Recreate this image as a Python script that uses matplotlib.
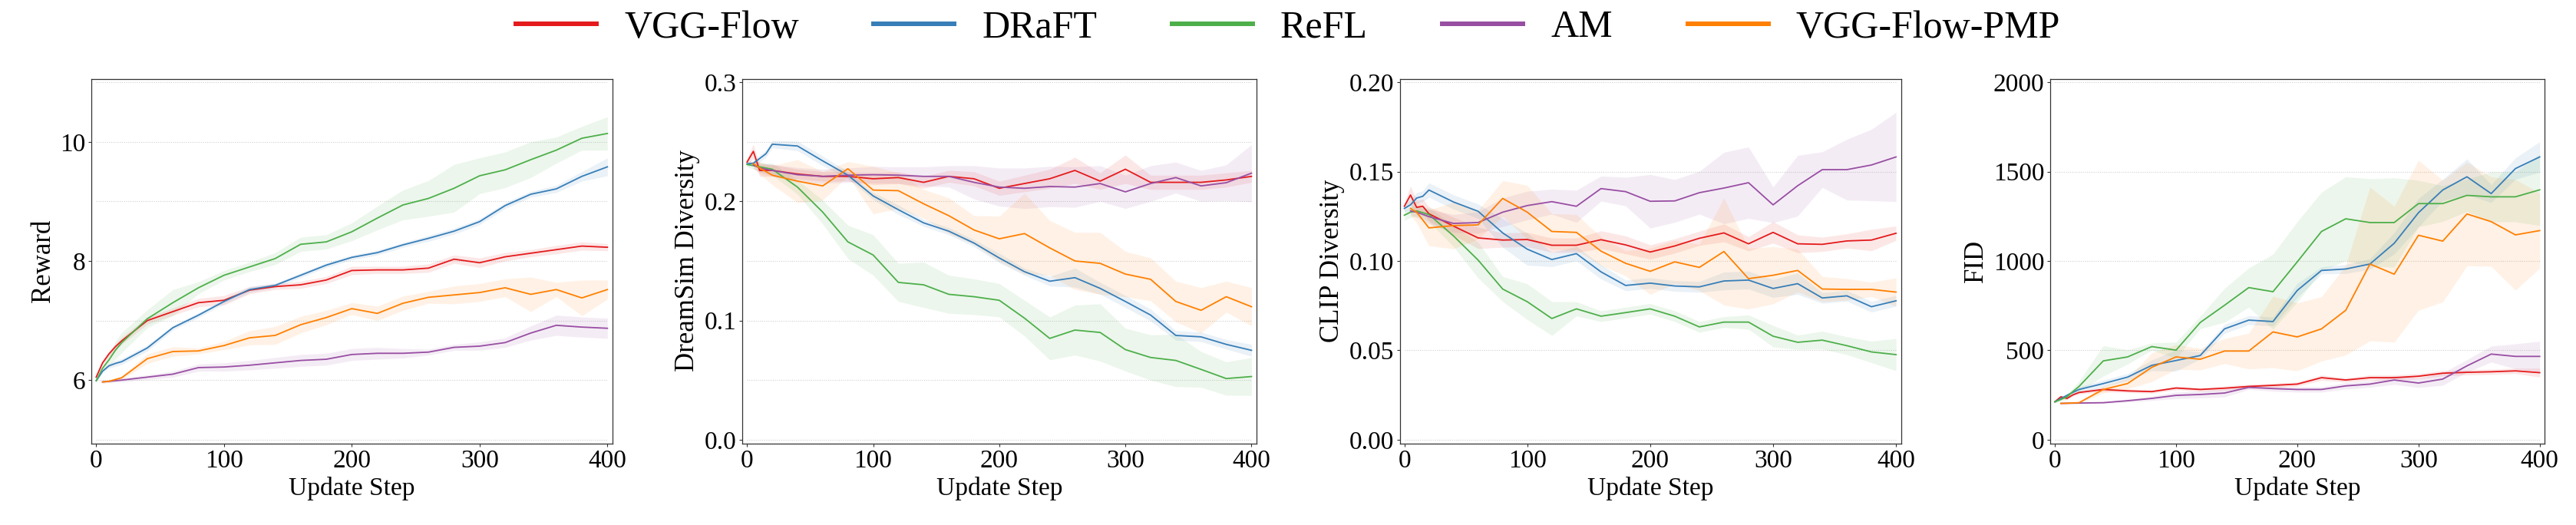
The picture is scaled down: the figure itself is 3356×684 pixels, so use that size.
import matplotlib
matplotlib.use('Agg')
import matplotlib.pyplot as plt
from matplotlib.ticker import FixedLocator
from matplotlib.lines import Line2D

plt.rcParams['font.family'] = ['Liberation Serif', 'DejaVu Serif']

# ---------------- data ----------------
methods = ['VGG-Flow', 'DRaFT', 'ReFL', 'AM', 'VGG-Flow-PMP']
colors = ['#e41a1c', '#377eb8', '#4daf4a', '#984ea3', '#ff7f00']

steps_full = [0, 5, 10, 15, 20, 40, 60, 80, 100, 120, 140, 160, 180, 200,
              220, 240, 260, 280, 300, 320, 340, 360, 380, 400]
steps_late = [5, 10, 20, 40, 60, 80, 100, 120, 140, 160, 180, 200,
              220, 240, 260, 280, 300, 320, 340, 360, 380, 400]

# Reward
reward_vgg = [6.05, 6.29, 6.44, 6.56, 6.66, 7.00, 7.15, 7.30, 7.34, 7.51, 7.57, 7.60,
              7.68, 7.84, 7.85, 7.85, 7.88, 8.03, 7.97, 8.07, 8.13, 8.19, 8.25, 8.23]
reward_vgg_sd = [0.02, 0.03, 0.04, 0.05, 0.06, 0.06, 0.06, 0.07, 0.08, 0.06, 0.05, 0.06,
                 0.06, 0.07, 0.06, 0.06, 0.07, 0.07, 0.08, 0.07, 0.06, 0.07, 0.07, 0.06]
reward_draft = [5.99, 6.15, 6.24, 6.28, 6.31, 6.54, 6.88, 7.09, 7.32, 7.52, 7.59, 7.76,
                7.93, 8.06, 8.14, 8.27, 8.38, 8.50, 8.66, 8.93, 9.12, 9.21, 9.42, 9.58]
reward_draft_sd = [0.02, 0.03, 0.04, 0.05, 0.05, 0.05, 0.04, 0.04, 0.04, 0.05, 0.04, 0.04,
                   0.04, 0.04, 0.04, 0.04, 0.05, 0.05, 0.05, 0.05, 0.05, 0.06, 0.08, 0.15]
reward_refl = [5.99, 6.20, 6.34, 6.50, 6.63, 7.03, 7.30, 7.55, 7.76, 7.90, 8.04, 8.28,
               8.32, 8.49, 8.72, 8.94, 9.05, 9.22, 9.43, 9.53, 9.70, 9.86, 10.06, 10.14]
reward_refl_sd = [0.02, 0.05, 0.10, 0.15, 0.17, 0.15, 0.22, 0.10, 0.08, 0.08, 0.10, 0.12,
                  0.12, 0.15, 0.20, 0.25, 0.30, 0.40, 0.30, 0.30, 0.30, 0.22, 0.20, 0.28]
reward_am = [5.97, 5.98, 6.00, 6.05, 6.10, 6.21, 6.22, 6.25, 6.29, 6.33, 6.35, 6.43,
             6.45, 6.45, 6.47, 6.55, 6.57, 6.63, 6.79, 6.92, 6.89, 6.87]
reward_am_sd = [0.02, 0.02, 0.03, 0.04, 0.05, 0.06, 0.07, 0.08, 0.09, 0.10, 0.10, 0.10,
                0.10, 0.08, 0.05, 0.05, 0.07, 0.08, 0.12, 0.17, 0.17, 0.17]
reward_pmp = [5.97, 5.98, 6.04, 6.36, 6.48, 6.49, 6.58, 6.71, 6.75, 6.93, 7.05, 7.20,
              7.12, 7.29, 7.39, 7.43, 7.47, 7.55, 7.44, 7.52, 7.38, 7.52]
reward_pmp_sd = [0.02, 0.02, 0.03, 0.08, 0.08, 0.05, 0.07, 0.12, 0.15, 0.14, 0.12, 0.10,
                 0.12, 0.12, 0.10, 0.15, 0.15, 0.15, 0.29, 0.12, 0.30, 0.16]

# DreamSim Diversity
dream_vgg = [0.233, 0.242, 0.226, 0.226, 0.226, 0.223, 0.221, 0.221, 0.219, 0.220, 0.216, 0.221,
             0.219, 0.211, 0.215, 0.219, 0.226, 0.217, 0.227, 0.216, 0.216, 0.216, 0.218, 0.221]
dream_vgg_sd = [0.003, 0.006, 0.005, 0.005, 0.005, 0.004, 0.004, 0.004, 0.005, 0.005, 0.005, 0.005,
                0.006, 0.006, 0.007, 0.008, 0.011, 0.007, 0.012, 0.006, 0.006, 0.006, 0.006, 0.005]
dream_draft = [0.2316, 0.232, 0.236, 0.240, 0.248, 0.2465, 0.234, 0.222, 0.2046, 0.193, 0.182, 0.175,
               0.165, 0.1525, 0.141, 0.133, 0.136, 0.127, 0.116, 0.1046, 0.0875, 0.0863, 0.080, 0.075]
dream_draft_sd = [0.002, 0.002, 0.003, 0.003, 0.003, 0.004, 0.004, 0.003, 0.003, 0.004, 0.003, 0.003,
                  0.003, 0.004, 0.003, 0.004, 0.008, 0.005, 0.005, 0.005, 0.004, 0.004, 0.004, 0.005]
dream_refl = [0.231, 0.230, 0.229, 0.228, 0.227, 0.212, 0.191, 0.166, 0.155, 0.132, 0.130, 0.122,
              0.120, 0.117, 0.102, 0.085, 0.092, 0.090, 0.0756, 0.069, 0.0665, 0.059, 0.0513, 0.053]
dream_refl_sd = [0.002, 0.003, 0.004, 0.004, 0.005, 0.006, 0.010, 0.014, 0.017, 0.016, 0.019, 0.016,
                 0.015, 0.014, 0.015, 0.018, 0.021, 0.024, 0.018, 0.019, 0.022, 0.015, 0.014, 0.016]
dream_am = [0.2306, 0.228, 0.226, 0.2224, 0.221, 0.222, 0.2224, 0.222, 0.221, 0.221, 0.216, 0.212,
            0.211, 0.2125, 0.212, 0.215, 0.208, 0.215, 0.220, 0.213, 0.2157, 0.2237]
dream_am_sd = [0.003, 0.004, 0.005, 0.006, 0.006, 0.006, 0.007, 0.007, 0.008, 0.009, 0.014, 0.016,
               0.017, 0.017, 0.017, 0.015, 0.014, 0.015, 0.013, 0.013, 0.015, 0.024]
dream_pmp = [0.2316, 0.228, 0.222, 0.217, 0.213, 0.2274, 0.2095, 0.209, 0.198, 0.188, 0.176, 0.1686,
             0.173, 0.161, 0.150, 0.148, 0.139, 0.1346, 0.116, 0.1086, 0.120, 0.1116]
dream_pmp_sd = [0.003, 0.005, 0.008, 0.018, 0.012, 0.006, 0.020, 0.015, 0.012, 0.015, 0.012, 0.019,
                0.034, 0.023, 0.024, 0.026, 0.019, 0.018, 0.017, 0.019, 0.013, 0.016]

# CLIP Diversity
clip_vgg = [0.1306, 0.1369, 0.1300, 0.1306, 0.1264, 0.1195, 0.1129, 0.1117, 0.1120, 0.1088, 0.1088, 0.1119,
            0.1090, 0.1050, 0.1084, 0.1127, 0.1157, 0.1096, 0.1160, 0.1096, 0.1093, 0.1112, 0.1117, 0.1155]
clip_vgg_sd = [0.002, 0.005, 0.004, 0.004, 0.004, 0.005, 0.006, 0.004, 0.004, 0.004, 0.004, 0.005,
               0.005, 0.004, 0.004, 0.004, 0.005, 0.004, 0.006, 0.005, 0.004, 0.004, 0.006, 0.004]
clip_draft = [0.1294, 0.1314, 0.1352, 0.1362, 0.1397, 0.1330, 0.1278, 0.1157, 0.1066, 0.1008, 0.1041, 0.0939,
              0.0863, 0.0876, 0.0860, 0.0855, 0.0888, 0.0893, 0.0846, 0.0873, 0.0793, 0.0805, 0.0744, 0.0777]
clip_draft_sd = [0.002, 0.003, 0.003, 0.003, 0.004, 0.004, 0.004, 0.008, 0.009, 0.004, 0.004, 0.004,
                 0.003, 0.003, 0.003, 0.003, 0.005, 0.005, 0.005, 0.006, 0.003, 0.003, 0.003, 0.003]
clip_refl = [0.1256, 0.1273, 0.1280, 0.1270, 0.1260, 0.1140, 0.1005, 0.0843, 0.0772, 0.0678, 0.0732, 0.0691,
             0.0711, 0.0732, 0.0691, 0.0631, 0.0658, 0.0658, 0.0579, 0.0545, 0.0557, 0.0526, 0.0491, 0.0476]
clip_refl_sd = [0.003, 0.003, 0.003, 0.003, 0.004, 0.006, 0.010, 0.007, 0.010, 0.0095, 0.004, 0.003,
                0.003, 0.003, 0.003, 0.003, 0.003, 0.004, 0.006, 0.004, 0.005, 0.005, 0.006, 0.009]
clip_am = [0.1280, 0.1273, 0.1248, 0.1210, 0.1215, 0.1273, 0.1310, 0.1332, 0.1306, 0.1405, 0.1388, 0.1334,
           0.1336, 0.1382, 0.1408, 0.1438, 0.1314, 0.1421, 0.1511, 0.1511, 0.1537, 0.1582]
clip_am_sd = [0.002, 0.003, 0.004, 0.005, 0.006, 0.008, 0.008, 0.007, 0.009, 0.007, 0.008, 0.015,
              0.012, 0.012, 0.020, 0.020, 0.010, 0.017, 0.010, 0.017, 0.020, 0.025]
clip_pmp = [0.1294, 0.1273, 0.1185, 0.1198, 0.1202, 0.1350, 0.1273, 0.1165, 0.1160, 0.1055, 0.0987, 0.0942,
            0.0995, 0.0964, 0.1053, 0.0901, 0.0920, 0.0947, 0.0843, 0.0841, 0.0841, 0.0826]
clip_pmp_sd = [0.004, 0.006, 0.010, 0.013, 0.008, 0.010, 0.015, 0.010, 0.010, 0.008, 0.007, 0.013,
               0.012, 0.013, 0.030, 0.017, 0.016, 0.012, 0.007, 0.006, 0.004, 0.008]

# FID
fid_vgg = [212, 240, 231, 251, 264, 281, 273, 269, 289, 281, 288, 298,
           304, 311, 347, 334, 347, 347, 355, 372, 377, 380, 385, 375]
fid_vgg_sd = [5, 8, 8, 8, 10, 12, 10, 10, 10, 10, 12, 12,
              12, 12, 15, 12, 15, 15, 15, 15, 15, 15, 15, 25]
fid_draft = [212, 230, 248, 265, 281, 314, 350, 416, 443, 471, 620, 669,
             661, 835, 947, 955, 983, 1099, 1270, 1397, 1471, 1377, 1517, 1582]
fid_draft_sd = [5, 8, 10, 12, 15, 20, 20, 30, 60, 20, 25, 25,
                25, 40, 20, 25, 30, 60, 80, 60, 100, 50, 60, 85]
fid_refl = [212, 225, 240, 270, 298, 441, 463, 521, 501, 656, 752, 851,
            828, 995, 1165, 1236, 1215, 1215, 1321, 1321, 1367, 1359, 1359, 1398]
fid_refl_sd = [5, 10, 15, 20, 30, 85, 40, 20, 45, 35, 95, 110,
               210, 225, 220, 235, 245, 250, 130, 100, 90, 140, 140, 200]
fid_am = [203, 204, 205, 207, 218, 231, 248, 253, 261, 293, 286, 281,
          281, 301, 311, 334, 317, 339, 413, 479, 466, 466]
fid_am_sd = [3, 3, 4, 5, 8, 12, 18, 20, 22, 12, 15, 15,
             15, 18, 18, 25, 25, 35, 35, 45, 70, 85]
fid_pmp = [203, 204, 207, 281, 314, 405, 463, 450, 496, 496, 603, 575,
           620, 724, 983, 926, 1144, 1111, 1263, 1220, 1146, 1170]
fid_pmp_sd = [3, 4, 5, 20, 30, 80, 70, 60, 70, 100, 200, 190,
              180, 250, 430, 380, 420, 340, 290, 250, 310, 210]

panels = [
    dict(ylabel='Reward',
         series=[(steps_full, reward_vgg, reward_vgg_sd), (steps_full, reward_draft, reward_draft_sd),
                 (steps_full, reward_refl, reward_refl_sd), (steps_late, reward_am, reward_am_sd),
                 (steps_late, reward_pmp, reward_pmp_sd)],
         ylim=(4.94, 11.06), major=[6, 8, 10], grid=[5, 6, 7, 8, 9, 10, 11],
         labels=['6', '8', '10']),
    dict(ylabel='DreamSim Diversity',
         series=[(steps_full, dream_vgg, dream_vgg_sd), (steps_full, dream_draft, dream_draft_sd),
                 (steps_full, dream_refl, dream_refl_sd), (steps_late, dream_am, dream_am_sd),
                 (steps_late, dream_pmp, dream_pmp_sd)],
         ylim=(-0.003, 0.303), major=[0.0, 0.1, 0.2, 0.3], grid=[0.0, 0.05, 0.1, 0.15, 0.2, 0.25, 0.3],
         labels=['0.0', '0.1', '0.2', '0.3']),
    dict(ylabel='CLIP Diversity',
         series=[(steps_full, clip_vgg, clip_vgg_sd), (steps_full, clip_draft, clip_draft_sd),
                 (steps_full, clip_refl, clip_refl_sd), (steps_late, clip_am, clip_am_sd),
                 (steps_late, clip_pmp, clip_pmp_sd)],
         ylim=(-0.002, 0.202), major=[0.0, 0.05, 0.1, 0.15, 0.2], grid=[0.0, 0.05, 0.1, 0.15, 0.2],
         labels=['0.00', '0.05', '0.10', '0.15', '0.20']),
    dict(ylabel='FID',
         series=[(steps_full, fid_vgg, fid_vgg_sd), (steps_full, fid_draft, fid_draft_sd),
                 (steps_full, fid_refl, fid_refl_sd), (steps_late, fid_am, fid_am_sd),
                 (steps_late, fid_pmp, fid_pmp_sd)],
         ylim=(-20, 2020), major=[0, 500, 1000, 1500, 2000], grid=[0, 500, 1000, 1500, 2000],
         labels=['0', '500', '1000', '1500', '2000']),
]

x_ticks = [0, 100, 200, 300, 400]

# ---------------- layout ----------------
W, H = 3356, 684
fig = plt.figure(figsize=(W / 100, H / 100), dpi=100)
boxes = [(119, 798), (967, 1637), (1823.5, 2476.5), (2671, 3315)]
top_px, bot_px = 102.5, 577.5
spine_col = '#333333'

for (l, r), p in zip(boxes, panels):
    ax = fig.add_axes([l / W, 1 - bot_px / H, (r - l) / W, (bot_px - top_px) / H])
    ax.hlines(p['grid'], 0, 400, colors='#cfcfcf', linestyles=(0, (1, 1.5)), linewidth=0.8, zorder=0)
    for (xs, m, sd), c in zip(p['series'], colors):
        lo = [a - b for a, b in zip(m, sd)]
        hi = [a + b for a, b in zip(m, sd)]
        ax.fill_between(xs, lo, hi, color=c, alpha=0.1, linewidth=0, zorder=1)
        ax.plot(xs, m, color=c, linewidth=1.3, zorder=2)
    ax.set_xlim(-3.8, 404)
    ax.set_ylim(*p['ylim'])
    ax.xaxis.set_major_locator(FixedLocator(x_ticks))
    ax.set_xticklabels([str(t) for t in x_ticks])
    ax.yaxis.set_major_locator(FixedLocator(p['major']))
    ax.set_yticklabels(p['labels'])
    for s in ax.spines.values():
        s.set_color(spine_col)
        s.set_linewidth(0.9)
    ax.tick_params(axis='both', which='major', direction='out', length=3, width=0.8,
                   color=spine_col, labelsize=24, pad=2.5)
    ax.set_xlabel('Update Step', fontsize=24, labelpad=4)
    ax.set_ylabel(p['ylabel'], fontsize=25, labelpad=4)

handles = [Line2D([], [], color=c, linewidth=4.3) for c in colors]
fig.legend(handles, methods, loc='upper center', bbox_to_anchor=(0.5, 1 - 13 / H), ncol=5,
           frameon=False, fontsize=36, handlelength=2.1, handletextpad=0.72,
           columnspacing=1.95, borderaxespad=0, borderpad=0)

fig.savefig('out.png', dpi=100)
